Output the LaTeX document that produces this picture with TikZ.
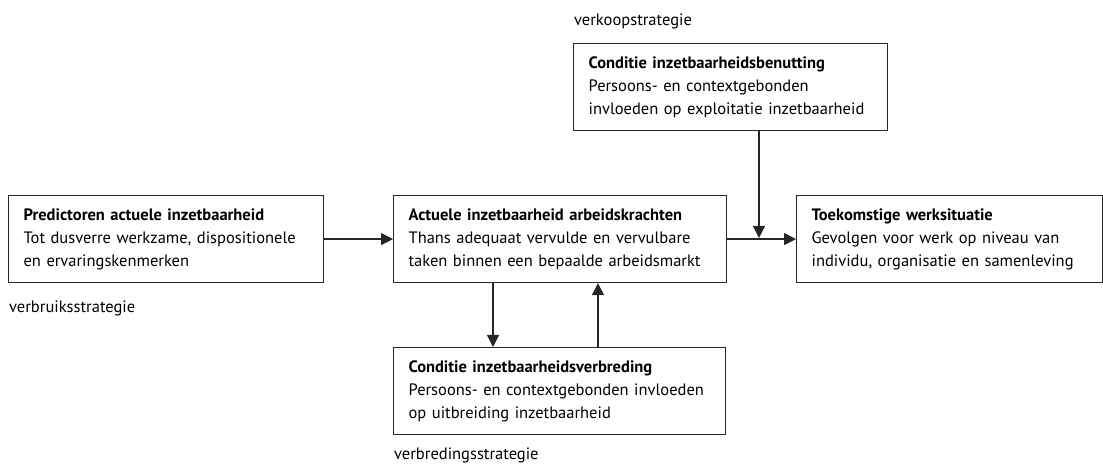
\documentclass[tikz,border=0pt]{standalone}
\usepackage{fontspec}
\setmainfont{PT Sans}
\usetikzlibrary{arrows.meta}
\begin{document}
\begin{tikzpicture}[x=1pt,y=1pt,
  box/.style={draw=black!85, line width=1.2pt, rectangle, align=left, inner xsep=15pt, inner ysep=0pt,
    minimum height=87pt, anchor=north west, font=\fontsize{16.5}{23}\selectfont},
  arr/.style={draw=black!85, line width=1.2pt, -{Triangle[length=12pt,width=12pt]}},
  lab/.style={anchor=base west, inner sep=0pt, font=\fontsize{16.5}{23}\selectfont}]
\useasboundingbox (0,0) rectangle (1103,468);
\node[box, text width=285pt] (pred) at (8,273) {\textbf{Predictoren actuele inzetbaarheid}\\Tot dusverre werkzame, dispositionele\\en ervaringskenmerken};
\node[box, text width=303pt] (act) at (393,273) {\textbf{Actuele inzetbaarheid arbeidskrachten}\\Thans adequaat vervulde en vervulbare\\taken binnen een bepaalde arbeidsmarkt};
\node[box, text width=276pt] (toek) at (796,273) {\textbf{Toekomstige werksituatie}\\Gevolgen voor werk op niveau van\\individu, organisatie en samenleving};
\node[box, text width=284pt] (ben) at (573,425) {\textbf{Conditie inzetbaarheidsbenutting}\\Persoons- en contextgebonden\\invloeden op exploitatie inzetbaarheid};
\node[box, text width=302pt] (verb) at (393,121) {\textbf{Conditie inzetbaarheidsverbreding}\\Persoons- en contextgebonden invloeden\\op uitbreiding inzetbaarheid};
\node[lab] (l1) at (574,442) {verkoopstrategie};
\node[lab] (l2) at (9,155) {verbruiksstrategie};
\node[lab] (l3) at (394,8) {verbredingsstrategie};
\coordinate (j) at (759,230);
\draw[arr] (pred.east) -- (act.west);
\draw[arr] (act.east) -- (toek.west);
\draw[arr] (ben.south -| j) -- (j);
\draw[arr] (act.south -| 493,0) -- (verb.north -| 493,0);
\draw[arr] (verb.north -| 598,0) -- (act.south -| 598,0);
\end{tikzpicture}
\end{document}
